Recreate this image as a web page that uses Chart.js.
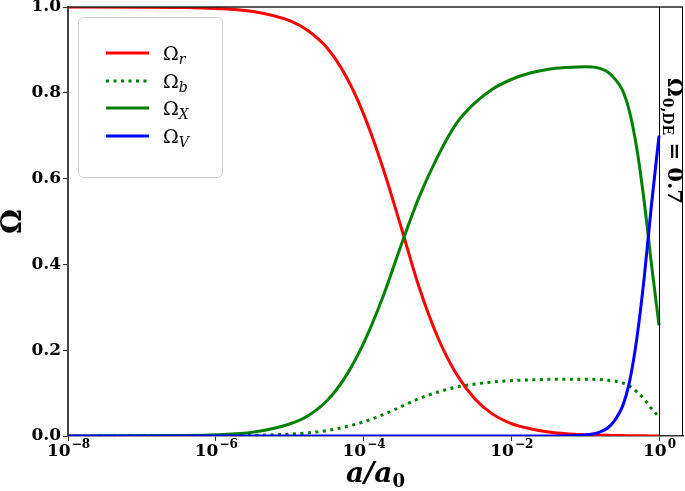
<!DOCTYPE html>
<html>
<head>
<meta charset="utf-8">
<script src="https://cdn.jsdelivr.net/npm/chart.js@4.4.1/dist/chart.umd.min.js"></script>
<style>
  html, body { margin: 0; padding: 0; background: #fff; }
  #wrap { width: 685px; height: 491px; }
</style>
</head>
<body>
<div id="wrap"><canvas id="myChart" width="685" height="491"></canvas></div>
<script>
// scale factor a/a0 (log-spaced samples)
const aValues = [1e-8, 1e-7, 3.2e-7, 1e-6, 3.2e-6, 1e-5, 1.8e-5, 3.2e-5, 5.6e-5, 1e-4,
  1.8e-4, 3.2e-4, 5.6e-4, 1e-3, 1.8e-3, 3.2e-3, 5.6e-3, 1e-2, 1.8e-2, 3.2e-2,
  5.6e-2, 0.1, 0.126, 0.158, 0.2, 0.25, 0.32, 0.4, 0.5, 0.63, 0.79, 1];

const omegaR = [1.0, 0.9997, 0.999, 0.9967, 0.9896, 0.968, 0.944, 0.905, 0.843, 0.751,
  0.629, 0.489, 0.349, 0.232, 0.145, 0.087, 0.051, 0.029, 0.017, 0.0095,
  0.0053, 0.003, 0.0024, 0.0019, 0.0015, 0.0012, 0.0009, 0.0007, 0.0005, 0.0003, 0.0002, 0.0001];
const omegaB = [0, 0.00004, 0.00014, 0.0004, 0.0014, 0.0043, 0.0074, 0.0126, 0.021, 0.033,
  0.049, 0.068, 0.087, 0.102, 0.114, 0.121, 0.126, 0.129, 0.131, 0.132,
  0.132, 0.132, 0.132, 0.1315, 0.130, 0.128, 0.124, 0.116, 0.103, 0.086, 0.064, 0.044];
const omegaX = [0.00003, 0.0003, 0.0009, 0.0029, 0.009, 0.028, 0.048, 0.082, 0.136, 0.216,
  0.321, 0.443, 0.555, 0.650, 0.728, 0.776, 0.809, 0.831, 0.846, 0.855,
  0.859, 0.861, 0.860, 0.857, 0.849, 0.833, 0.806, 0.755, 0.670, 0.546, 0.400, 0.258];
const omegaV = [0, 0, 0, 0, 0, 0, 0, 0, 0, 0,
  0, 0, 0, 0, 0, 0, 0, 0, 0, 0,
  0.0004, 0.0023, 0.0046, 0.0092, 0.018, 0.036, 0.069, 0.128, 0.227, 0.369, 0.539, 0.70];

const xTickValues = [1e-8, 1e-6, 1e-4, 1e-2, 1];
const xTickExponents = ['\u22128', '\u22126', '\u22124', '\u22122', '0'];
const yTicks = [0, 0.2, 0.4, 0.6, 0.8, 1.0];

const seriesNames = ['r', 'b', 'X', 'V'];
const seriesColors = ['#ff0000', '#008000', '#008000', '#0000ff'];
const seriesDash = [[], [3, 4.5], [], []];

const serif = '"DejaVu Serif", "Liberation Serif", serif';

function pts(ys) {
  return aValues.map((a, i) => ({ x: a, y: ys[i] }));
}

const datasets = [omegaR, omegaB, omegaX, omegaV].map((ys, i) => ({
  label: '\u03A9' + seriesNames[i],
  data: pts(ys),
  borderColor: seriesColors[i],
  borderWidth: 3,
  borderDash: seriesDash[i],
  borderCapStyle: 'butt',
  pointRadius: 0,
  cubicInterpolationMode: 'monotone',
  fill: false,
  order: 3 - i
}));

// frame, a=1 marker, side note, x labels and legend
const extras = {
  id: 'extras',
  afterDraw(chart) {
    const ctx = chart.ctx;
    const area = chart.chartArea;
    const xs = chart.scales.x;
    ctx.save();

    // top and right spines
    ctx.strokeStyle = '#222';
    ctx.lineWidth = 1.5;
    ctx.beginPath();
    ctx.moveTo(area.left, area.top);
    ctx.lineTo(area.right, area.top);
    ctx.stroke();
    ctx.lineWidth = 1;
    ctx.strokeStyle = '#000';
    ctx.beginPath();
    ctx.moveTo(area.right - 0.5, area.top);
    ctx.lineTo(area.right - 0.5, area.bottom);
    const x1 = Math.round(xs.getPixelForValue(1)) + 0.5;
    ctx.moveTo(x1, area.top);
    ctx.lineTo(x1, area.bottom);
    ctx.stroke();

    // x tick labels 10^n
    ctx.fillStyle = '#000';
    ctx.textAlign = 'left';
    ctx.textBaseline = 'alphabetic';
    xTickValues.forEach((v, i) => {
      const px = xs.getPixelForValue(v);
      ctx.font = 'bold 17px ' + serif;
      const bw = ctx.measureText('10').width;
      ctx.font = 'bold 12px ' + serif;
      const ew = ctx.measureText(xTickExponents[i]).width;
      const x0 = px - (bw + ew) / 2;
      ctx.font = 'bold 17px ' + serif;
      ctx.fillText('10', x0, 456);
      ctx.font = 'bold 12px ' + serif;
      ctx.fillText(xTickExponents[i], x0 + bw + 1, 448);
    });

    // x axis title a/a0
    ctx.font = 'bold italic 28px ' + serif;
    const tw = ctx.measureText('a/a').width;
    ctx.font = 'bold 18px ' + serif;
    const sw = ctx.measureText('0').width;
    const tx = (area.left + area.right) / 2 - (tw + sw) / 2;
    ctx.font = 'bold italic 28px ' + serif;
    ctx.fillText('a/a', tx, 482);
    ctx.font = 'bold 18px ' + serif;
    ctx.fillText('0', tx + tw, 487);

    // rotated note
    ctx.translate(x1 + 8, 78);
    ctx.rotate(Math.PI / 2);
    ctx.font = 'bold 21px ' + serif;
    ctx.fillText('\u03A9', 0, 0);
    let w = ctx.measureText('\u03A9').width;
    ctx.font = 'bold 14px ' + serif;
    ctx.fillText('0,DE', w + 1, 5);
    w += ctx.measureText('0,DE').width + 1;
    ctx.font = 'bold 21px ' + serif;
    ctx.fillText(' = 0.7', w, 0);
    ctx.restore();

    // legend box
    ctx.save();
    ctx.strokeStyle = '#d0d0d0';
    ctx.lineWidth = 1;
    ctx.fillStyle = 'rgba(255,255,255,0.8)';
    ctx.beginPath();
    ctx.roundRect(78.5, 17.5, 144, 160, 5);
    ctx.fill();
    ctx.stroke();
    const rowY = [53, 81, 108, 136];
    chart.data.datasets.forEach((ds, i) => {
      const y = rowY[i];
      ctx.strokeStyle = ds.borderColor;
      ctx.lineWidth = 3;
      ctx.setLineDash(ds.borderDash);
      ctx.beginPath();
      ctx.moveTo(106, y);
      ctx.lineTo(149, y);
      ctx.stroke();
      ctx.setLineDash([]);
      ctx.fillStyle = '#000';
      ctx.font = '19px ' + serif;
      ctx.fillText('\u03A9', 163, y + 7);
      const ow = ctx.measureText('\u03A9').width;
      ctx.font = 'italic 14px ' + serif;
      ctx.fillText(seriesNames[i], 163 + ow, y + 11);
    });
    ctx.restore();
  }
};

const ctx = document.getElementById('myChart').getContext('2d');
new Chart(ctx, {
  type: 'line',
  data: { datasets },
  options: {
    responsive: false,
    animation: false,
    layout: { padding: { left: 0, top: 7, right: 2, bottom: 0 } },
    plugins: { legend: { display: false }, tooltip: { enabled: false } },
    scales: {
      x: {
        type: 'logarithmic',
        min: 1e-8,
        max: 2.11,
        afterBuildTicks: s => { s.ticks = xTickValues.map(v => ({ value: v })); },
        afterFit: s => { s.height = 55; s.paddingLeft = 0; s.paddingRight = 0; },
        ticks: { display: false, autoSkip: false },
        grid: { drawOnChartArea: false, tickLength: 5, color: '#333' },
        border: { display: true, color: '#333', width: 1.5 }
      },
      y: {
        min: 0,
        max: 1,
        afterBuildTicks: s => { s.ticks = yTicks.map(v => ({ value: v })); },
        afterFit: s => { s.width = 68; s.paddingTop = 0; s.paddingBottom = 0; },
        ticks: {
          padding: 2,
          color: '#000',
          font: { family: serif, size: 17, weight: 'bold' },
          callback: v => v.toFixed(1)
        },
        grid: { drawOnChartArea: false, tickLength: 5, color: '#333' },
        border: { display: true, color: '#444', width: 2 },
        title: {
          display: true,
          text: '\u03A9',
          color: '#000',
          font: { family: serif, size: 28, weight: 'bold', lineHeight: 1 },
          padding: { top: 0, bottom: 0 }
        }
      }
    }
  },
  plugins: [extras]
});
</script>
</body>
</html>
